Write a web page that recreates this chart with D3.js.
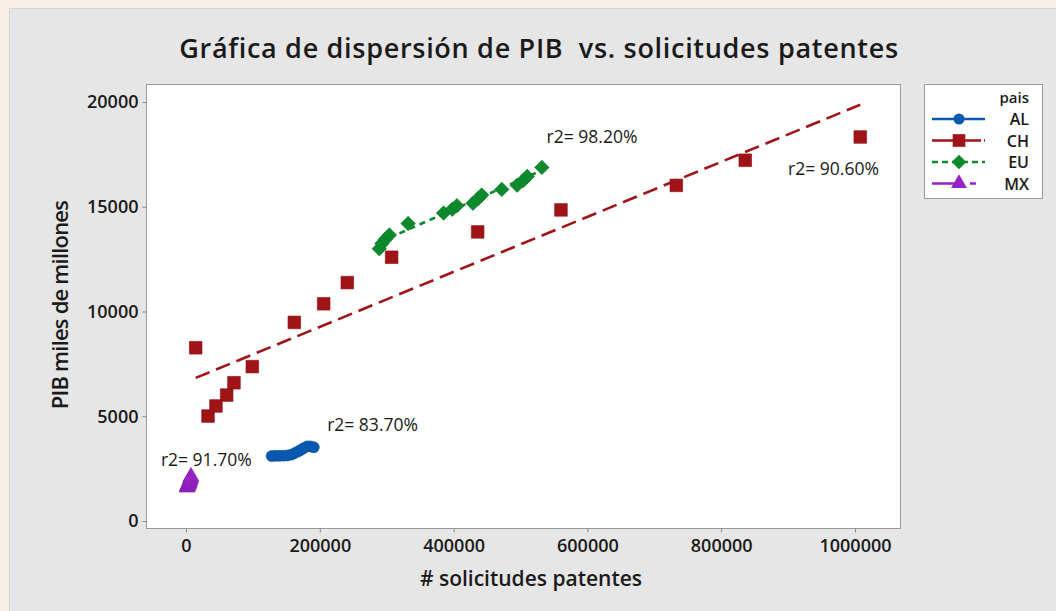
<!DOCTYPE html>
<html>
<head>
<meta charset="utf-8">
<script src="https://cdn.jsdelivr.net/npm/d3@7"></script>
<style>
  html, body { margin: 0; padding: 0; background: #f7eee5; }
  svg { display: block; }
  text { font-family: 'Open Sans', sans-serif; fill: #1a1a1a; }
</style>
</head>
<body>
<div id="chart"></div>
<script>
const width = 1056
const height = 611
const margin = { top: 84, right: 156, bottom: 83, left: 146 }

// data
const paises = ['AL', 'CH', 'EU', 'MX']
const r2Labels = ['r2= 83.70%', 'r2= 90.60%', 'r2= 98.20%', 'r2= 91.70%']

const alX = [128000, 134000, 140000, 146000, 152000, 158000, 163000, 168000, 172000, 176000, 181000, 186000, 191000]
const alY = [3100, 3110, 3110, 3120, 3130, 3170, 3250, 3330, 3400, 3480, 3560, 3560, 3520]

const chX = [14500, 32900, 44800, 60800, 71700, 99100, 161900, 205800, 241100, 307400, 436000, 560500, 732900, 836000, 1007900]
const chY = [8270, 5010, 5490, 6010, 6600, 7370, 9480, 10370, 11380, 12590, 13800, 14850, 16020, 17220, 18330]

const euX = [289000, 293000, 298000, 304000, 332000, 385000, 398000, 405000, 429000, 437000, 442000, 472000, 495000, 504000, 510000, 532000]
const euY = [13000, 13250, 13450, 13650, 14200, 14700, 14880, 15050, 15170, 15400, 15560, 15830, 16030, 16250, 16450, 16880]

const mxX = [1500, 2200, 3000, 3800, 4500, 5200, 6000, 6800, 7500]
const mxY = [1600, 1650, 1700, 1760, 1820, 1880, 1950, 2030, 2120]

const xTicks = [0, 200000, 400000, 600000, 800000, 1000000]
const yTicks = [0, 5000, 10000, 15000, 20000]

// where the r2 notes sit (data coords of left/baseline)
const notePos = [[211000, 4300], [900000, 16500], [539000, 18040], [-37500, 2630]]

const styles = {
  AL: { color: '#0a59b0', dash: null, symbol: d3.symbolCircle, size: 95, rot: 0 },
  CH: { color: '#a01418', dash: '15,7', symbol: d3.symbolSquare, size: 160, rot: 0 },
  EU: { color: '#0b8a2c', dash: '6,5', symbol: d3.symbolSquare, size: 105, rot: 45 },
  MX: { color: '#9522c4', dash: '20,5,5,5', symbol: d3.symbolTriangle, size: 110, rot: 0 },
}

const series = [
  { name: 'AL', xs: alX, ys: alY },
  { name: 'CH', xs: chX, ys: chY },
  { name: 'EU', xs: euX, ys: euY },
  { name: 'MX', xs: mxX, ys: mxY },
].map((s, i) => ({
  ...s,
  label: r2Labels[i],
  points: s.xs.map((x, j) => ({ x, y: s.ys[j] })),
}))

// least squares fit per pais
function fit(points) {
  const mx = d3.mean(points, d => d.x)
  const my = d3.mean(points, d => d.y)
  const sxy = d3.sum(points, d => (d.x - mx) * (d.y - my))
  const sxx = d3.sum(points, d => (d.x - mx) ** 2)
  const b = sxy / sxx
  const a = my - b * mx
  const [x0, x1] = d3.extent(points, d => d.x)
  return [
    { x: x0, y: a + b * x0 },
    { x: x1, y: a + b * x1 },
  ]
}

const x = d3
  .scaleLinear()
  .domain([-59800, 1067300])
  .range([margin.left, width - margin.right])

const y = d3
  .scaleLinear()
  .domain([-334, 20860])
  .range([height - margin.bottom, margin.top])

const svg = d3
  .select('#chart')
  .append('svg')
  .attr('width', width)
  .attr('height', height)

// grey panel
svg
  .append('rect')
  .attr('x', 9.5)
  .attr('y', 8.5)
  .attr('width', width)
  .attr('height', height)
  .attr('fill', '#e6e6e6')
  .attr('stroke', '#d4d4d4')

svg
  .append('text')
  .attr('x', 539)
  .attr('y', 58)
  .attr('text-anchor', 'middle')
  .attr('font-size', 27)
  .attr('font-weight', 600)
  .attr('letter-spacing', 0.7)
  .text('Gráfica de dispersión de PIB\u00a0 vs. solicitudes patentes')

// plot area
svg
  .append('rect')
  .attr('x', margin.left + 0.5)
  .attr('y', margin.top + 0.5)
  .attr('width', width - margin.left - margin.right)
  .attr('height', height - margin.top - margin.bottom)
  .attr('fill', '#fff')
  .attr('stroke', '#9a9a9a')

const axisStyle = g => {
  g.select('.domain').remove()
  g.selectAll('.tick line').attr('stroke', '#8a8a8a')
  g.selectAll('.tick text')
    .attr('font-size', 18)
    .attr('font-weight', 600)
    .attr('fill', '#1a1a1a')
}

svg
  .append('g')
  .attr('transform', `translate(0,${height - margin.bottom + 0.5})`)
  .call(d3.axisBottom(x).tickValues(xTicks).tickSize(4).tickPadding(7).tickFormat(d3.format('d')))
  .call(axisStyle)

svg
  .append('g')
  .attr('transform', `translate(${margin.left + 0.5},0)`)
  .call(d3.axisLeft(y).tickValues(yTicks).tickSize(4).tickPadding(4).tickFormat(d3.format('d')))
  .call(axisStyle)

svg
  .append('text')
  .attr('x', 531)
  .attr('y', 586)
  .attr('text-anchor', 'middle')
  .attr('font-size', 21)
  .attr('font-weight', 600)
  .text('# solicitudes patentes')

svg
  .append('text')
  .attr('transform', 'translate(68,305) rotate(-90)')
  .attr('text-anchor', 'middle')
  .attr('font-size', 22)
  .attr('font-weight', 600)
  .attr('letter-spacing', -0.8)
  .text('PIB miles de millones')

const plot = svg.append('g')

const line = d3
  .line()
  .x(d => x(d.x))
  .y(d => y(d.y))

const sym = s =>
  d3.symbol().type(styles[s].symbol).size(styles[s].size)()

series.forEach((s, i) => {
  const st = styles[s.name]
  plot
    .append('g')
    .selectAll('path')
    .data(s.points)
    .join('path')
    .attr('d', sym(s.name))
    .attr('transform', d => `translate(${x(d.x)},${y(d.y)}) rotate(${st.rot})`)
    .attr('fill', st.color)
    .attr('stroke', d3.color(st.color).darker(0.4))
    .attr('stroke-width', 0.6)

  plot
    .append('path')
    .datum(fit(s.points))
    .attr('d', line)
    .attr('fill', 'none')
    .attr('stroke', st.color)
    .attr('stroke-width', 2.6)
    .attr('stroke-dasharray', st.dash)

  plot
    .append('text')
    .attr('x', x(notePos[i][0]))
    .attr('y', y(notePos[i][1]))
    .attr('font-size', 17.5)
    .attr('fill', '#222')
    .text(s.label)
})

// legend
const legend = svg.append('g').attr('transform', 'translate(924,84)')

legend
  .append('rect')
  .attr('x', 0.5)
  .attr('y', 0.5)
  .attr('width', 118)
  .attr('height', 114)
  .attr('fill', '#fff')
  .attr('stroke', '#9a9a9a')

legend
  .append('text')
  .attr('x', 105)
  .attr('y', 19)
  .attr('text-anchor', 'end')
  .attr('font-size', 15)
  .attr('font-weight', 600)
  .text('pais')

const rows = legend
  .selectAll('g.row')
  .data(paises)
  .join('g')
  .attr('class', 'row')
  .attr('transform', (d, i) => `translate(0,${35 + i * 21.5})`)

rows
  .append('line')
  .attr('x1', 8)
  .attr('x2', 61)
  .attr('stroke', d => styles[d].color)
  .attr('stroke-width', 2.6)
  .attr('stroke-dasharray', d => ({ AL: null, CH: '23,3', EU: '6,4', MX: '30,8,6,20' })[d])

rows
  .append('path')
  .attr('d', d => sym(d))
  .attr('transform', d => `translate(35,0) rotate(${styles[d].rot})`)
  .attr('fill', d => styles[d].color)

rows
  .append('text')
  .attr('x', 105)
  .attr('y', 6)
  .attr('text-anchor', 'end')
  .attr('font-size', 16)
  .attr('font-weight', 600)
  .text(d => d)
</script>
</body>
</html>
